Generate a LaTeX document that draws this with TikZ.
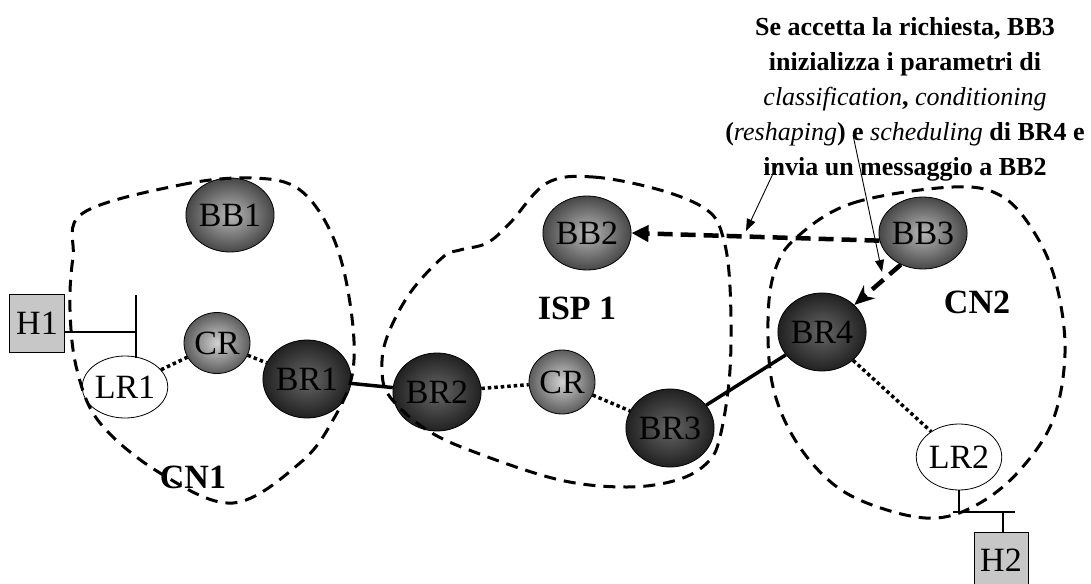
\documentclass[tikz,border=0pt]{standalone}
\usepackage{fontspec}
\setmainfont{Liberation Serif}
\usetikzlibrary{shapes.geometric,arrows.meta}
\begin{document}
\begin{tikzpicture}[x=1pt,y=-1pt,
  router/.style={ellipse, draw=black, line width=0.8pt, inner sep=0pt, font=\fontsize{34}{36}\selectfont},
  bbnode/.style={router, minimum width=80pt, minimum height=74pt, inner color=black!28, outer color=black!72},
  crnode/.style={router, minimum width=66pt, minimum height=61pt, inner color=black!18, outer color=black!64},
  brnode/.style={router, minimum width=77pt, minimum height=78pt, inner color=black!60, outer color=black!87},
  lrnode/.style={router, fill=white, minimum width=66pt, minimum height=62pt},
  host/.style={rectangle, draw=black, line width=0.8pt, fill=black!22, minimum width=55pt, minimum height=58pt, inner sep=0pt, font=\fontsize{34}{36}\selectfont},
  region/.style={draw=black, line width=3pt, dash pattern=on 12pt off 8pt},
  label/.style={font=\fontsize{34}{36}\selectfont\bfseries},
  dotlink/.style={line width=3.5pt, dash pattern=on 3.5pt off 3pt},
  solidlink/.style={line width=3.5pt},
  msg/.style={line width=4.5pt, dash pattern=on 15pt off 8pt},
  note/.style={line width=0.9pt, -{Triangle[length=12pt,width=9pt]}},
  tap/.style={line width=1.6pt}
]
\useasboundingbox (0,0) rectangle (1091,583);

% nodes
\node[bbnode] (BB1) at (230,215) {BB1};
\node[host] (H1) at (37,323) {H1};
\node[lrnode] (LR1) at (125,387) {LR1};
\node[crnode] (CR1) at (217,343) {CR};
\node[brnode] (BR1) at (307,379) {BR1};
\node[bbnode] (BB2) at (587,233) {BB2};
\node[brnode] (BR2) at (437,392) {BR2};
\node[crnode, minimum height=64pt] (CR2) at (562,382) {CR};
\node[brnode] (BR3) at (670,428) {BR3};
\node[bbnode, minimum height=72pt] (BB3) at (923,233) {BB3};
\node[brnode] (BR4) at (822,332) {BR4};
\node[lrnode, minimum height=66pt] (LR2) at (959,457) {LR2};
\node[host, minimum width=54pt, minimum height=56pt] (H2) at (1001,560) {H2};

\node[label] (CN1) at (193,477) {CN1};
\node[label] (ISP) at (577,308) {ISP 1};
\node[label] (CN2) at (977,302) {CN2};

% region boundaries
\draw[region] plot[smooth cycle, tension=0.6] coordinates {
 (83,213) (180,185) (253,178) (300,190) (333,237) (350,303) (353,370)
 (333,420) (300,463) (233,503) (160,473) (100,423) (77,370) (70,310) (73,257)};
\draw[region] plot[smooth cycle, tension=0.6] coordinates {
 (547,183) (593,177) (660,190) (707,210) (723,237) (730,287) (730,370)
 (720,437) (707,463) (677,480) (627,487) (560,480) (477,453) (427,430)
 (390,397) (382,370) (387,337) (410,293) (443,257) (460,250) (487,243) (510,223)};
\draw[region] plot[smooth cycle, tension=0.6] coordinates {
 (797,237) (853,203) (953,187) (1003,197) (1037,237) (1057,287) (1065,353)
 (1053,420) (1020,470) (980,503) (937,518) (887,510) (837,487) (797,443)
 (773,387) (768,320) (775,270)};

% host attachments
\coordinate (T1) at (136,332);
\coordinate (T1a) at (136,295);
\coordinate (T1b) at (136,358);
\draw[tap] (H1.east |- T1) -- (T1);
\draw[tap] (T1a) -- (T1b);
\coordinate (T2) at (959,512);
\coordinate (T2a) at (953,512);
\coordinate (T2b) at (1015,512);
\draw[line width=2.6pt] (LR2.south) -- (T2);
\draw[line width=2.6pt] (T2a) -- (T2b);
\draw[line width=2.6pt] (H2.north -| 1003,0) -- (1003,512);

% links
\draw[dotlink] (LR1) -- (CR1);
\draw[dotlink] (CR1) -- (BR1);
\draw[dotlink] (BR2) -- (CR2);
\draw[dotlink] (CR2) -- (BR3);
\draw[dotlink] (BR4) -- (LR2);
\draw[solidlink] (BR1) -- (BR2);
\draw[solidlink] (BR3) -- (BR4);

% messages
\draw[msg, -{Triangle[length=17pt,width=16pt]}] (BB3.190) -- (BB2.east);
\draw[msg, -{Stealth[length=20pt,width=17pt]}] (BB3.235) -- (BR4.40);

% annotation
\node[font=\fontsize{26}{35}\selectfont\bfseries, align=center, inner sep=0pt] (txt) at (905,99)
 {Se accetta la richiesta, BB3\\
  inizializza i parametri di\\
  {\mdseries\itshape classification}, {\mdseries\itshape conditioning}\\
  ({\mdseries\itshape reshaping}) e {\mdseries\itshape scheduling} di BR4 e\\
  invia un messaggio a BB2};
\coordinate (a1) at (778,163);
\coordinate (a2) at (853,135);
\draw[note] (a1) -- (746,231);
\draw[note] (a2) -- (882,272);
\end{tikzpicture}
\end{document}
